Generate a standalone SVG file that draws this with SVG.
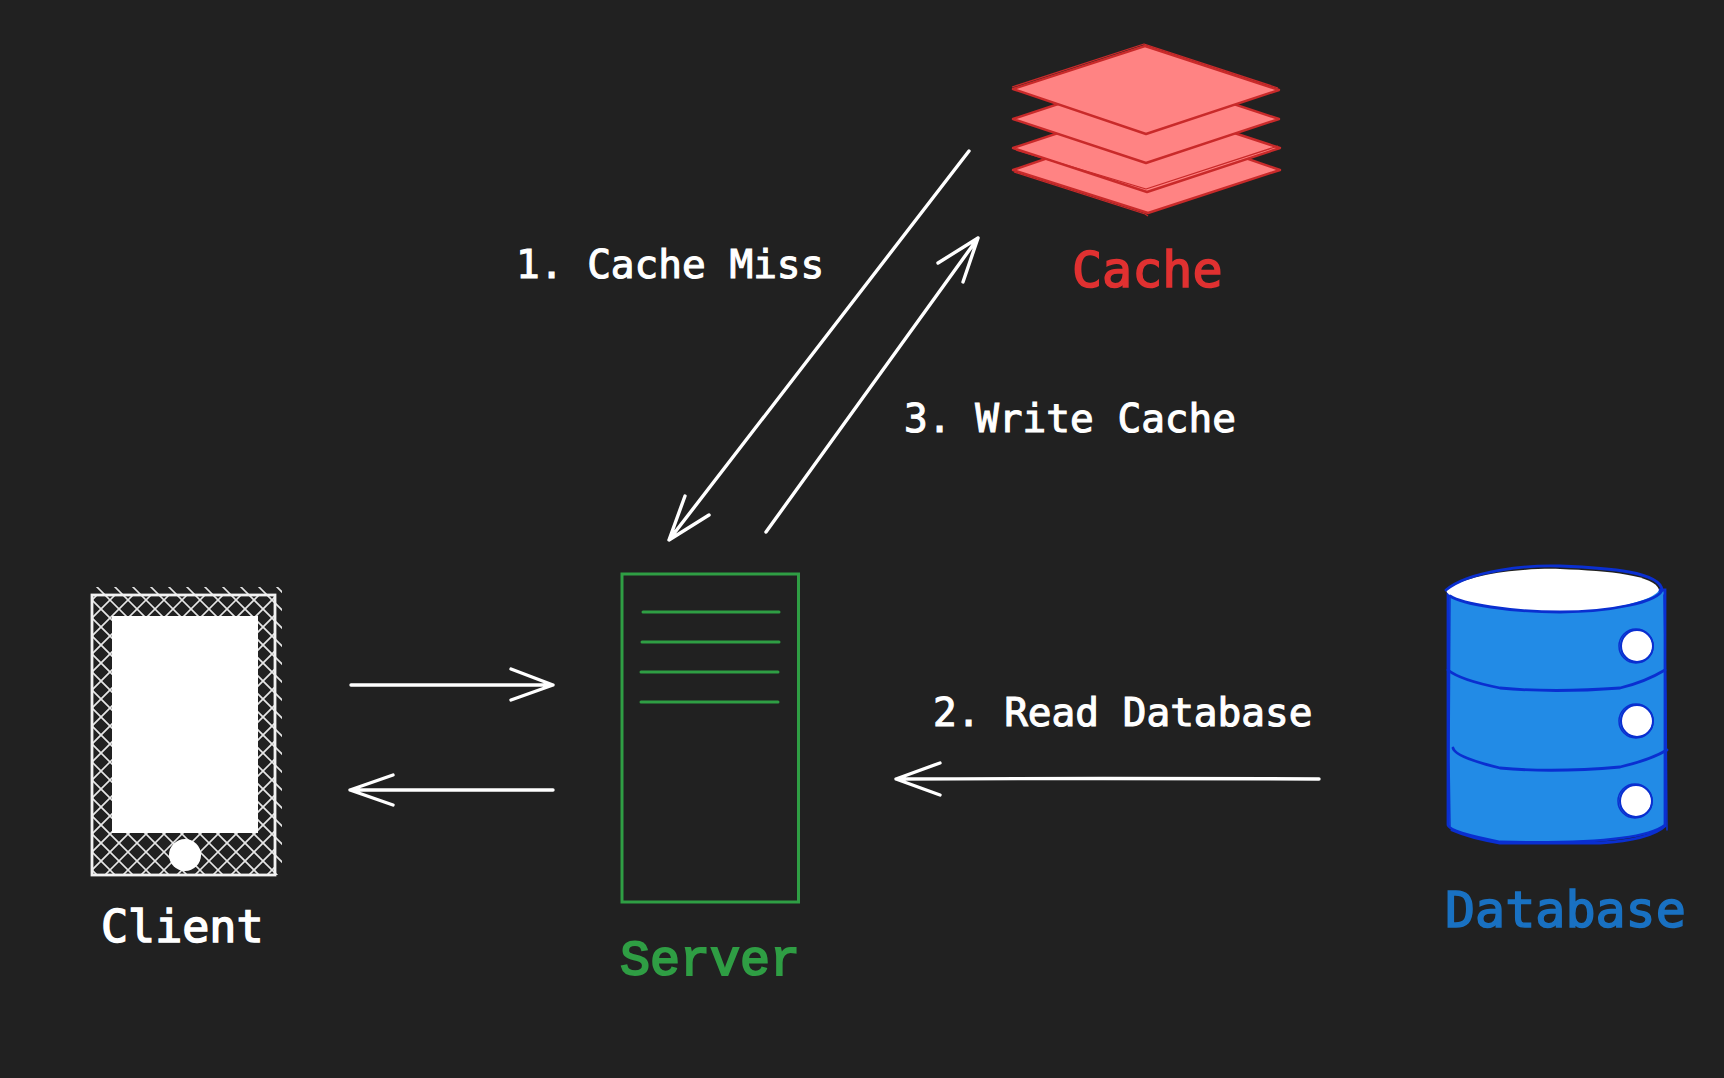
<svg xmlns="http://www.w3.org/2000/svg" width="1724" height="1078" viewBox="0 0 1724 1078">
<defs>
<clipPath id="hatchA"><rect x="92" y="587" width="190" height="288"/></clipPath>
<clipPath id="hatchB"><rect x="92" y="595" width="183" height="280"/></clipPath>
</defs>
<style>
text{font-family:"DejaVu Sans Mono","Liberation Mono",monospace}
.lbl{font-size:39.4px;fill:#fff;stroke:#fff;stroke-width:1.1}
.name{font-size:50px;stroke-width:1.6}
.arrow{fill:none;stroke:#fff;stroke-width:3.4;stroke-linecap:round;stroke-linejoin:round}
.sheet{fill:#ff8383;stroke:#c92a2a;stroke-width:2.4;stroke-linejoin:round}
.edge{fill:none;stroke:#c92a2a;stroke-width:1.3;stroke-linejoin:round}
.dbl{fill:none;stroke:#0a2fd0;stroke-width:2.8;stroke-linecap:round}
.dbt{fill:none;stroke:#0a2fd0;stroke-width:1.5;stroke-linecap:round}
.btn{fill:#fff;stroke:#0a2fd0;stroke-width:2}
.hatch{fill:none;stroke:#e6e6e6;stroke-width:1.6}
</style>
<rect width="1724" height="1078" fill="#212121"/>
<g id="connectors" class="arrow">
<path d="M969 151L669 540M685 496L669 540L709 515"/>
<path d="M766 532L978 238M938 263L978 238L963 282"/>
<path d="M351 685L553 685M511 669L553 685L511 700"/>
<path d="M553 790L350 790M393 775L350 790L393 805"/>
<path d="M1319 779Q1100 778 896 779M940 763L896 779L940 795"/>
</g>
<g id="client">
<path clip-path="url(#hatchA)" class="hatch" d="M-278 500l450 450M-260 500l450 450M-242 500l450 450M-224 500l450 450M-206 500l450 450M-188 500l450 450M-170 500l450 450M-152 500l450 450M-134 500l450 450M-116 500l450 450M-98 500l450 450M-80 500l450 450M-62 500l450 450M-44 500l450 450M-26 500l450 450M-8 500l450 450M10 500l450 450M28 500l450 450M46 500l450 450M64 500l450 450M82 500l450 450M100 500l450 450M118 500l450 450M136 500l450 450M154 500l450 450M172 500l450 450M190 500l450 450"/>
<path clip-path="url(#hatchB)" class="hatch" d="M192 500l-450 450M210 500l-450 450M228 500l-450 450M246 500l-450 450M264 500l-450 450M282 500l-450 450M300 500l-450 450M318 500l-450 450M336 500l-450 450M354 500l-450 450M372 500l-450 450M390 500l-450 450M408 500l-450 450M426 500l-450 450M444 500l-450 450M462 500l-450 450M480 500l-450 450M498 500l-450 450M516 500l-450 450M534 500l-450 450M552 500l-450 450M570 500l-450 450M588 500l-450 450M606 500l-450 450M624 500l-450 450M642 500l-450 450M660 500l-450 450"/>
<rect x="92" y="595" width="183" height="280" fill="none" stroke="#f2f2f2" stroke-width="2.800"/>
<rect x="112" y="616" width="146" height="217" fill="#fff"/>
<circle cx="185" cy="855" r="16" fill="#fff"/>
<text x="101" y="942" font-size="45" fill="#fff" stroke="#fff" stroke-width="1.500">Client</text>
</g>
<g id="server">
<rect x="622" y="574" width="176.500" height="328" fill="none" stroke="#2f9e44" stroke-width="3"/>
<path d="M643 612H779M642 642H779M641 672H778M641 702H778" fill="none" stroke="#2f9e44" stroke-width="3" stroke-linecap="round"/>
<text x="620" y="975" class="name" fill="#2f9e44" stroke="#2f9e44" style="font-family:'Liberation Mono','DejaVu Sans Mono',monospace;stroke-width:2">Server</text>
</g>
<g id="cache">
<path class="sheet" d="M1013 170L1147 124L1280 170L1148 213Z"/>
<path class="edge" d="M1014 172L1145 214L1148 216"/>
<path class="sheet" d="M1013 148L1146 104L1280 148L1147 192Z"/>
<path class="edge" d="M1016 150L1146 189L1278 146"/>
<path class="sheet" d="M1013 119L1146 75L1279 119L1146 163Z"/>
<path class="sheet" d="M1013 89L1145 46L1279 90L1146 134Z"/>
<path class="edge" d="M1012 87L1144 44L1278 88"/>
<text x="1072" y="287" class="name" fill="#e03131" stroke="#e03131">Cache</text>
</g>
<g id="database">
<path d="M1448 590V825Q1449 832 1500 842Q1640 845 1665 825V590Z" fill="#228be6" stroke="#0a2fd0" stroke-width="2.800"/>
<path class="dbt" d="M1450 595L1449 760L1450 826M1664 595L1666 700L1667 830"/>
<path d="M1446 590C1470 572 1530 568 1560 569C1610 571 1655 575 1659 590C1655 600 1610 612 1560 612C1510 612 1450 605 1446 590Z" fill="#fff"/>
<path class="dbl" d="M1446 590C1470 570 1530 565 1560 566C1610 568 1660 572 1662 590C1658 602 1610 612 1560 612C1510 612 1462 604 1450 596"/>
<path class="dbl" d="M1448 670Q1460 680 1500 688Q1553 693 1620 688Q1645 682 1665 670"/>
<path class="dbl" d="M1453 748Q1455 757 1500 768Q1553 773 1620 767Q1650 760 1667 750"/>
<path class="dbl" d="M1452 830Q1470 838 1500 843H1600Q1650 840 1665 826"/>
<circle class="btn" cx="1637" cy="646" r="16"/>
<circle class="btn" cx="1637" cy="721" r="16"/>
<circle class="btn" cx="1636" cy="801" r="16"/>
<circle class="dbt" cx="1636" cy="646" r="17"/>
<circle class="dbt" cx="1636" cy="721" r="17"/>
<circle class="dbt" cx="1635" cy="801" r="17"/>
<text x="1445" y="927" class="name" fill="#1971c2" stroke="#1971c2">Database</text>
</g>
<g id="labels">
<text x="516" y="278" class="lbl">1. Cache Miss</text>
<text x="904" y="432" class="lbl">3. Write Cache</text>
<text x="933" y="726" class="lbl">2. Read Database</text>
</g>
</svg>
